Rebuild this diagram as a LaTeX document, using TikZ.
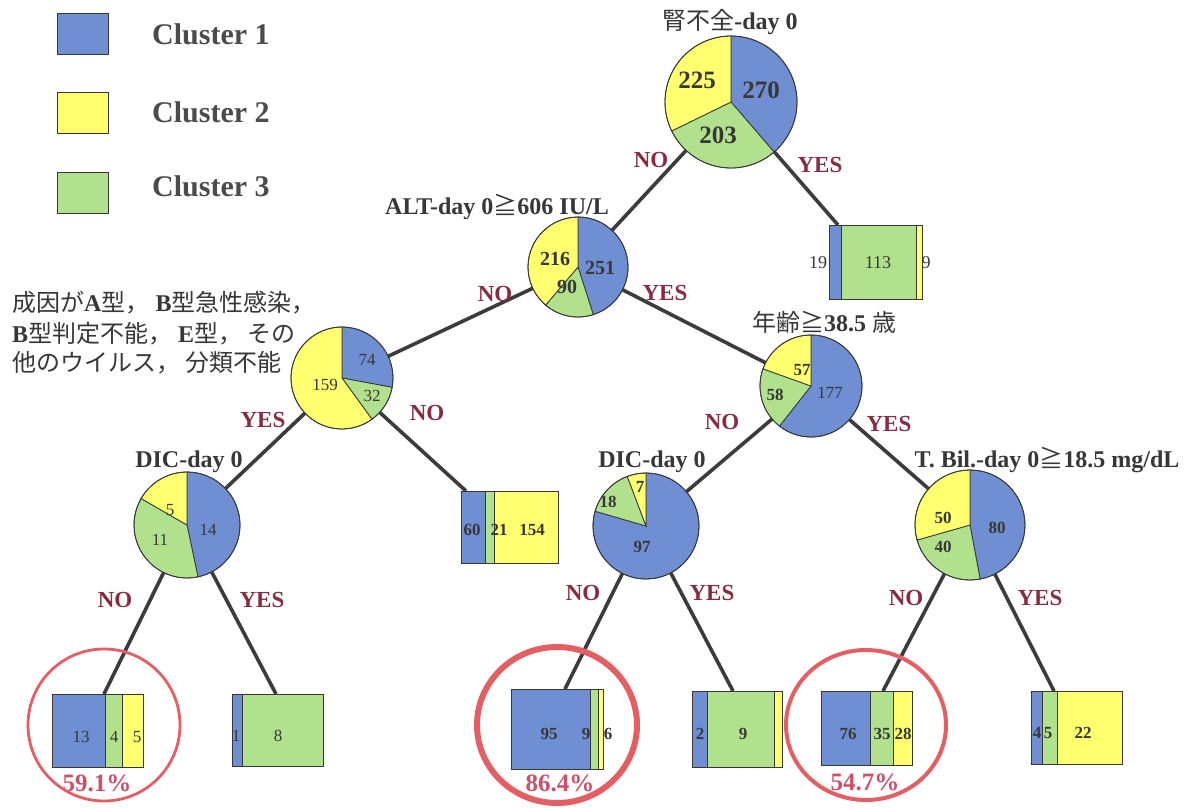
\documentclass[tikz,border=0pt]{standalone}
\usepackage{fontspec}
\setmainfont{Liberation Serif}
\newfontfamily\jp{Noto Sans CJK JP}
\definecolor{cblue}{RGB}{112,142,210}
\definecolor{cgreen}{RGB}{178,225,142}
\definecolor{cyellow}{RGB}{255,255,112}
\definecolor{ink}{RGB}{55,55,55}
\definecolor{leggray}{RGB}{75,75,75}
\definecolor{connc}{RGB}{60,60,60}
\definecolor{edgered}{RGB}{135,45,65}
\definecolor{ringred}{RGB}{228,95,100}
\definecolor{pctred}{RGB}{205,80,105}
\newcommand\fsz[1]{\fontsize{#1}{#1}\selectfont}
\tikzset{
  seg/.style={draw=ink, line width=0.8pt},
  conn/.style={draw=connc, line width=3.6pt},
  pienode/.style={circle, inner sep=0pt, draw=none},
  leafbox/.style={rectangle, draw=ink, line width=0.8pt, inner sep=0pt},
  legsq/.style={rectangle, draw=ink, line width=0.8pt, inner sep=0pt, minimum width=51pt, minimum height=41pt},
  legtxt/.style={text=leggray, font=\bfseries\fsz{30}, inner sep=0pt, anchor=west},
  edgelbl/.style={text=edgered, font=\bfseries\fsz{23}, inner sep=0pt},
  num/.style={text=ink, inner sep=0pt},
  ttl/.style={text=ink, font=\bfseries\fsz{24}, inner sep=0pt},
  ring/.style={draw=ringred},
  pct/.style={text=pctred, font=\bfseries\fsz{25}, inner sep=0pt}
}
\newcommand\piechart[5]{%
  \pgfmathsetmacro\piesum{#3+#4+#5}%
  \pgfmathsetmacro\pieA{-90+360/\piesum*#3}%
  \pgfmathsetmacro\pieB{\pieA+360/\piesum*#4}%
  \filldraw[seg,fill=cblue] (#1.center) -- ++(-90:#2) arc[start angle=-90,end angle=\pieA,radius=#2] -- cycle;
  \filldraw[seg,fill=cgreen] (#1.center) -- ++(\pieA:#2) arc[start angle=\pieA,end angle=\pieB,radius=#2] -- cycle;
  \filldraw[seg,fill=cyellow] (#1.center) -- ++(\pieB:#2) arc[start angle=\pieB,end angle=270,radius=#2] -- cycle;
  \draw[seg] (#1.center) circle[radius=#2];
}
\newcommand\leaf[8]{%
  \pgfmathsetmacro\leafsum{#6+#7+#8}%
  \pgfmathsetmacro\leafwa{#4/\leafsum*#6}%
  \pgfmathsetmacro\leafwb{#4/\leafsum*#7}%
  \pgfmathsetmacro\leafwc{#4/\leafsum*#8}%
  \filldraw[seg,fill=cblue] (#2,#3) rectangle ++(\leafwa,#5);
  \filldraw[seg,fill=cgreen] ({#2+\leafwa},#3) rectangle ++(\leafwb,#5);
  \filldraw[seg,fill=cyellow] ({#2+\leafwa+\leafwb},#3) rectangle ++(\leafwc,#5);
  \node[leafbox, minimum width=#4pt, minimum height=#5pt, anchor=north west] (#1) at (#2,#3) {};
}
\begin{document}
\begin{tikzpicture}[x=1pt,y=-1pt]
\fill[white] (0,0) rectangle (1195,807);
\useasboundingbox (0,0) rectangle (1195,807);

% legend
\node[legsq, fill=cblue] (lg1) at (83,34) {};
\node[legsq, fill=cyellow] (lg2) at (83,113) {};
\node[legsq, fill=cgreen] (lg3) at (83,193) {};
\node[legtxt] (lt1) at (152,34) {Cluster 1};
\node[legtxt] (lt2) at (152,112) {Cluster 2};
\node[legtxt] (lt3) at (152,186) {Cluster 3};

% pie nodes
\node[pienode, minimum size=132pt] (p0) at (731,102) {};
\node[pienode, minimum size=100pt] (p1) at (578,267) {};
\node[pienode, minimum size=102pt] (p2) at (342,378) {};
\node[pienode, minimum size=102pt] (p3) at (811,386) {};
\node[pienode, minimum size=106pt] (p4) at (187,525) {};
\node[pienode, minimum size=106pt] (p5) at (646,526) {};
\node[pienode, minimum size=110pt] (p6) at (970,525) {};

% leaf boxes
\leaf{b0}{829}{225}{93}{74}{19}{113}{9}
\leaf{b1}{461}{491}{97}{72}{60}{21}{154}
\leaf{b2}{52}{694}{91}{73}{13}{4}{5}
\leaf{b3}{232}{694}{91}{72}{1}{8}{0}
\leaf{b4}{511}{689}{92}{80}{95}{9}{6}
\leaf{b5}{692}{691}{90}{76}{2}{9}{1}
\leaf{b6}{821}{691}{91}{74}{76}{35}{28}
\leaf{b7}{1031}{691}{91}{73}{4}{5}{22}

% connectors
\draw[conn] (p0.center) -- (p1.center);
\draw[conn] (p0.center) -- ([xshift=9pt]b0.north west);
\draw[conn] (p1.center) -- (p2.center);
\draw[conn] (p1.center) -- (p3.center);
\draw[conn] (p2.center) -- (p4.center);
\draw[conn] (p2.center) -- ([xshift=5pt]b1.north west);
\draw[conn] (p3.center) -- (p5.center);
\draw[conn] (p3.center) -- (p6.center);
\draw[conn] (p4.center) -- ([xshift=52pt]b2.north west);
\draw[conn] (p4.center) -- ([xshift=44pt]b3.north west);
\draw[conn] (p5.center) -- ([xshift=54pt]b4.north west);
\draw[conn] (p5.center) -- ([xshift=41pt]b5.north west);
\draw[conn] (p6.center) -- ([xshift=62pt]b6.north west);
\draw[conn] (p6.center) -- ([xshift=23pt]b7.north west);

% pies
\piechart{p0}{66}{270}{203}{225}
\piechart{p1}{50}{251}{90}{216}
\piechart{p2}{51}{74}{32}{159}
\piechart{p3}{51}{177}{58}{57}
\piechart{p4}{53}{14}{11}{5}
\piechart{p5}{53}{97}{18}{7}
\piechart{p6}{55}{80}{40}{50}

% pie numbers
\node[num, font=\bfseries\fsz{25}] (n0a) at (697,80) {225};
\node[num, font=\bfseries\fsz{25}] (n0b) at (761,90) {270};
\node[num, font=\bfseries\fsz{25}] (n0c) at (718,135) {203};
\node[num, font=\bfseries\fsz{20}] (n1a) at (555,259) {216};
\node[num, font=\bfseries\fsz{20}] (n1b) at (600,268) {251};
\node[num, font=\bfseries\fsz{20}] (n1c) at (567,287) {90};
\node[num, font=\fsz{17}] (n2a) at (367,360) {74};
\node[num, font=\fsz{17}] (n2b) at (325,385) {159};
\node[num, font=\fsz{17}] (n2c) at (372,396) {32};
\node[num, font=\bfseries\fsz{17}] (n3a) at (802,370) {57};
\node[num, font=\bfseries\fsz{17}] (n3b) at (775,395) {58};
\node[num, font=\fsz{17}] (n3c) at (830,393) {177};
\node[num, font=\fsz{17}] (n4a) at (170,510) {5};
\node[num, font=\fsz{17}] (n4b) at (160,540) {11};
\node[num, font=\fsz{17}] (n4c) at (208,530) {14};
\node[num, font=\bfseries\fsz{17}] (n5a) at (608,502) {18};
\node[num, font=\bfseries\fsz{17}] (n5b) at (640,487) {7};
\node[num, font=\bfseries\fsz{17}] (n5c) at (642,547) {97};
\node[num, font=\bfseries\fsz{17}] (n6a) at (943,518) {50};
\node[num, font=\bfseries\fsz{17}] (n6b) at (997,528) {80};
\node[num, font=\bfseries\fsz{17}] (n6c) at (943,547) {40};

% box numbers
\node[num, font=\fsz{18}] (m0a) at (818,263) {19};
\node[num, font=\fsz{18}] (m0b) at (878,263) {113};
\node[num, font=\fsz{18}] (m0c) at (926,263) {9};
\node[num, font=\bfseries\fsz{17}] (m1a) at (472,530) {60};
\node[num, font=\bfseries\fsz{17}] (m1b) at (499,530) {21};
\node[num, font=\bfseries\fsz{17}] (m1c) at (532,530) {154};
\node[num, font=\fsz{17}] (m2a) at (81,737) {13};
\node[num, font=\fsz{17}] (m2b) at (114,737) {4};
\node[num, font=\fsz{17}] (m2c) at (137,737) {5};
\node[num, font=\fsz{17}] (m3a) at (236,736) {1};
\node[num, font=\fsz{17}] (m3b) at (278,736) {8};
\node[num, font=\bfseries\fsz{17}] (m4a) at (549,734) {95};
\node[num, font=\bfseries\fsz{17}] (m4b) at (586,734) {9};
\node[num, font=\bfseries\fsz{17}] (m4c) at (608,734) {6};
\node[num, font=\bfseries\fsz{17}] (m5a) at (700,734) {2};
\node[num, font=\bfseries\fsz{17}] (m5b) at (743,734) {9};
\node[num, font=\bfseries\fsz{17}] (m6a) at (848,734) {76};
\node[num, font=\bfseries\fsz{17}] (m6b) at (882,734) {35};
\node[num, font=\bfseries\fsz{17}] (m6c) at (903,734) {28};
\node[num, font=\bfseries\fsz{17}] (m7a) at (1037,733) {4};
\node[num, font=\bfseries\fsz{17}] (m7b) at (1048,733) {5};
\node[num, font=\bfseries\fsz{17}] (m7c) at (1083,733) {22};

% titles
\node[ttl] (t0) at (730,22) {{\jp\mdseries 腎不全}-day 0};
\node[ttl] (t1) at (497,207) {ALT-day 0{\jp\mdseries ≧}606 IU/L};
\node[ttl, anchor=west, font=\fsz{24}] (t2a) at (12,303) {{\jp 成因が}\textbf{A}{\jp 型，} \textbf{B}{\jp 型急性感染，}};
\node[ttl, anchor=west, font=\fsz{24}] (t2b) at (12,334) {\textbf{B}{\jp 型判定不能，} \textbf{E}{\jp 型， その}};
\node[ttl, anchor=west, font=\fsz{24}] (t2c) at (12,363) {{\jp 他のウイルス， 分類不能}};
\node[ttl] (t3) at (824,322) {{\jp\mdseries 年齢≧}38.5 {\jp\mdseries 歳}};
\node[ttl] (t4) at (189,462) {DIC-day 0};
\node[ttl] (t5) at (652,462) {DIC-day 0};
\node[ttl] (t6) at (1047,460) {T. Bil.-day 0{\jp\mdseries ≧}18.5 mg/dL};

% edge labels
\node[edgelbl] (e1) at (651,160) {NO};
\node[edgelbl] (e2) at (820,165) {YES};
\node[edgelbl] (e3) at (495,294) {NO};
\node[edgelbl] (e4) at (665,293) {YES};
\node[edgelbl] (e5) at (263,420) {YES};
\node[edgelbl] (e6) at (427,413) {NO};
\node[edgelbl] (e7) at (722,422) {NO};
\node[edgelbl] (e8) at (889,424) {YES};
\node[edgelbl] (e9) at (115,600) {NO};
\node[edgelbl] (e10) at (262,600) {YES};
\node[edgelbl] (e11) at (583,593) {NO};
\node[edgelbl] (e12) at (712,593) {YES};
\node[edgelbl] (e13) at (906,598) {NO};
\node[edgelbl] (e14) at (1040,598) {YES};

% percentages and rings
\node[pct] (q1) at (97,783) {59.1\%};
\node[pct] (q2) at (560,783) {86.4\%};
\node[pct] (q3) at (865,782) {54.7\%};
\draw[ring, line width=2.8pt] (104,725) ellipse [x radius=76, y radius=76];
\draw[ring, line width=6pt] (557,725) ellipse [x radius=80, y radius=78];
\draw[ring, line width=4pt] (866,725) ellipse [x radius=80, y radius=75];
\end{tikzpicture}
\end{document}
